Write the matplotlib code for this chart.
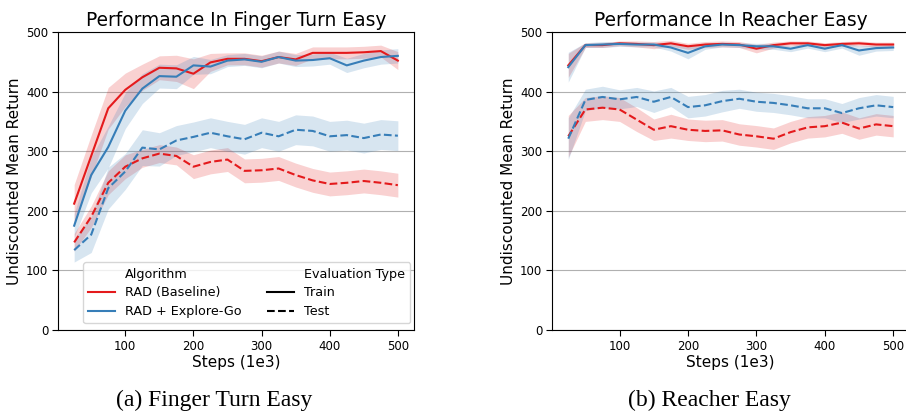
import numpy as np
import matplotlib.pyplot as plt
from matplotlib.lines import Line2D

plt.rcParams['font.family'] = 'DejaVu Sans'

# Data (steps in 1e3)
steps = [25, 50, 75, 100, 125, 150, 175, 200, 225, 250, 275, 300, 325, 350, 375, 400, 425, 450, 475, 500]

# Finger Turn Easy
ft_rad_train = [212, 292, 372, 403, 424, 440, 439, 430, 449, 455, 455, 451, 458, 454, 465, 465, 465, 466, 468, 452]
ft_rad_train_err = [32, 35, 35, 28, 22, 20, 22, 25, 15, 10, 10, 10, 10, 10, 10, 10, 10, 10, 10, 15]
ft_exp_train = [175, 260, 307, 368, 405, 426, 425, 444, 442, 452, 454, 450, 458, 452, 453, 456, 444, 452, 458, 460]
ft_exp_train_err = [20, 30, 35, 30, 25, 20, 20, 15, 12, 10, 10, 10, 10, 10, 10, 10, 12, 12, 12, 12]
ft_rad_test = [147, 190, 247, 274, 288, 296, 292, 274, 282, 286, 267, 268, 271, 260, 251, 245, 247, 250, 247, 243]
ft_rad_test_err = [15, 18, 20, 20, 15, 15, 15, 20, 20, 20, 20, 20, 20, 20, 20, 20, 20, 20, 20, 20]
ft_exp_test = [134, 160, 238, 266, 306, 303, 318, 324, 331, 325, 320, 331, 325, 336, 334, 325, 327, 322, 328, 326]
ft_exp_test_err = [20, 30, 35, 30, 30, 28, 25, 25, 25, 25, 25, 25, 25, 25, 25, 25, 25, 25, 25, 25]

# Reacher Easy
re_rad_train = [444, 478, 478, 481, 480, 478, 481, 476, 479, 480, 479, 472, 478, 481, 481, 478, 480, 481, 479, 479]
re_rad_train_err = [20, 4, 4, 4, 5, 6, 5, 5, 5, 5, 5, 7, 5, 4, 4, 4, 4, 4, 4, 4]
re_exp_train = [441, 478, 479, 480, 479, 479, 474, 465, 476, 479, 478, 476, 476, 472, 478, 472, 478, 469, 473, 474]
re_exp_train_err = [25, 4, 5, 4, 4, 4, 6, 10, 5, 4, 4, 5, 5, 5, 5, 5, 5, 8, 5, 5]
re_rad_test = [325, 370, 373, 370, 353, 336, 342, 336, 334, 335, 328, 325, 321, 332, 340, 342, 348, 338, 345, 342]
re_rad_test_err = [35, 20, 20, 20, 20, 18, 20, 18, 18, 18, 18, 18, 18, 18, 18, 18, 18, 18, 18, 18]
re_exp_test = [321, 386, 391, 387, 391, 383, 391, 374, 377, 384, 388, 383, 381, 377, 372, 372, 364, 372, 377, 374]
re_exp_test_err = [35, 18, 18, 16, 16, 18, 16, 18, 18, 18, 16, 16, 16, 16, 16, 16, 16, 18, 18, 18]

red = '#e41a1c'
blue = '#377eb8'

fig = plt.figure(figsize=(9.06, 4.13), dpi=100)
ax1 = fig.add_axes([0.064, 0.201, 0.393, 0.7215])
ax2 = fig.add_axes([0.6093, 0.201, 0.3945, 0.7215])


def draw(ax, series, title):
    for y, err, color, ls in series:
        y = np.array(y, dtype=float)
        err = np.array(err, dtype=float)
        ax.fill_between(steps, y - err, y + err, color=color, alpha=0.2, linewidth=0)
        ax.plot(steps, y, color=color, linestyle=ls, linewidth=1.5)
    ax.set_ylim(0, 500)
    ax.set_xlim(1.25, 523.75)
    ax.set_xticks([100, 200, 300, 400, 500])
    ax.set_yticks([0, 100, 200, 300, 400, 500])
    ax.grid(True, axis='y', color='#b0b0b0', linewidth=0.8)
    ax.set_axisbelow(True)
    ax.tick_params(labelsize=8.5, length=4.5, pad=2.5)
    ax.set_xlabel('Steps (1e3)', fontsize=11, labelpad=2)
    ax.set_ylabel('Undiscounted Mean Return', fontsize=11, labelpad=3)
    ax.set_title(title, fontsize=13.4, pad=4)


draw(ax1, [(ft_rad_train, ft_rad_train_err, red, '-'),
           (ft_exp_train, ft_exp_train_err, blue, '-'),
           (ft_rad_test, ft_rad_test_err, red, '--'),
           (ft_exp_test, ft_exp_test_err, blue, '--')],
     'Performance In Finger Turn Easy')
draw(ax2, [(re_rad_train, re_rad_train_err, red, '-'),
           (re_exp_train, re_exp_train_err, blue, '-'),
           (re_rad_test, re_rad_test_err, red, '--'),
           (re_exp_test, re_exp_test_err, blue, '--')],
     'Performance In Reacher Easy')

blank = Line2D([], [], linestyle='none')
handles = [blank,
           Line2D([], [], color=red, linewidth=1.5),
           Line2D([], [], color=blue, linewidth=1.5),
           blank,
           Line2D([], [], color='black', linewidth=1.5),
           Line2D([], [], color='black', linewidth=1.5, linestyle='--')]
labels = ['Algorithm', 'RAD (Baseline)', 'RAD + Explore-Go',
          'Evaluation Type', 'Train', 'Test']
ax1.legend(handles, labels, ncol=2, loc='lower right', fontsize=9.2,
           handlelength=2.1, handletextpad=0.78, columnspacing=2.0,
           labelspacing=0.45, borderaxespad=0.3,
           bbox_to_anchor=(1.0, 0.01))

fig.text(0.236, 0.031, '(a) Finger Turn Easy', fontsize=17,
         family='Liberation Serif', ha='center', va='center')
fig.text(0.783, 0.031, '(b) Reacher Easy', fontsize=17,
         family='Liberation Serif', ha='center', va='center')

fig.savefig('out.png', dpi=100)
